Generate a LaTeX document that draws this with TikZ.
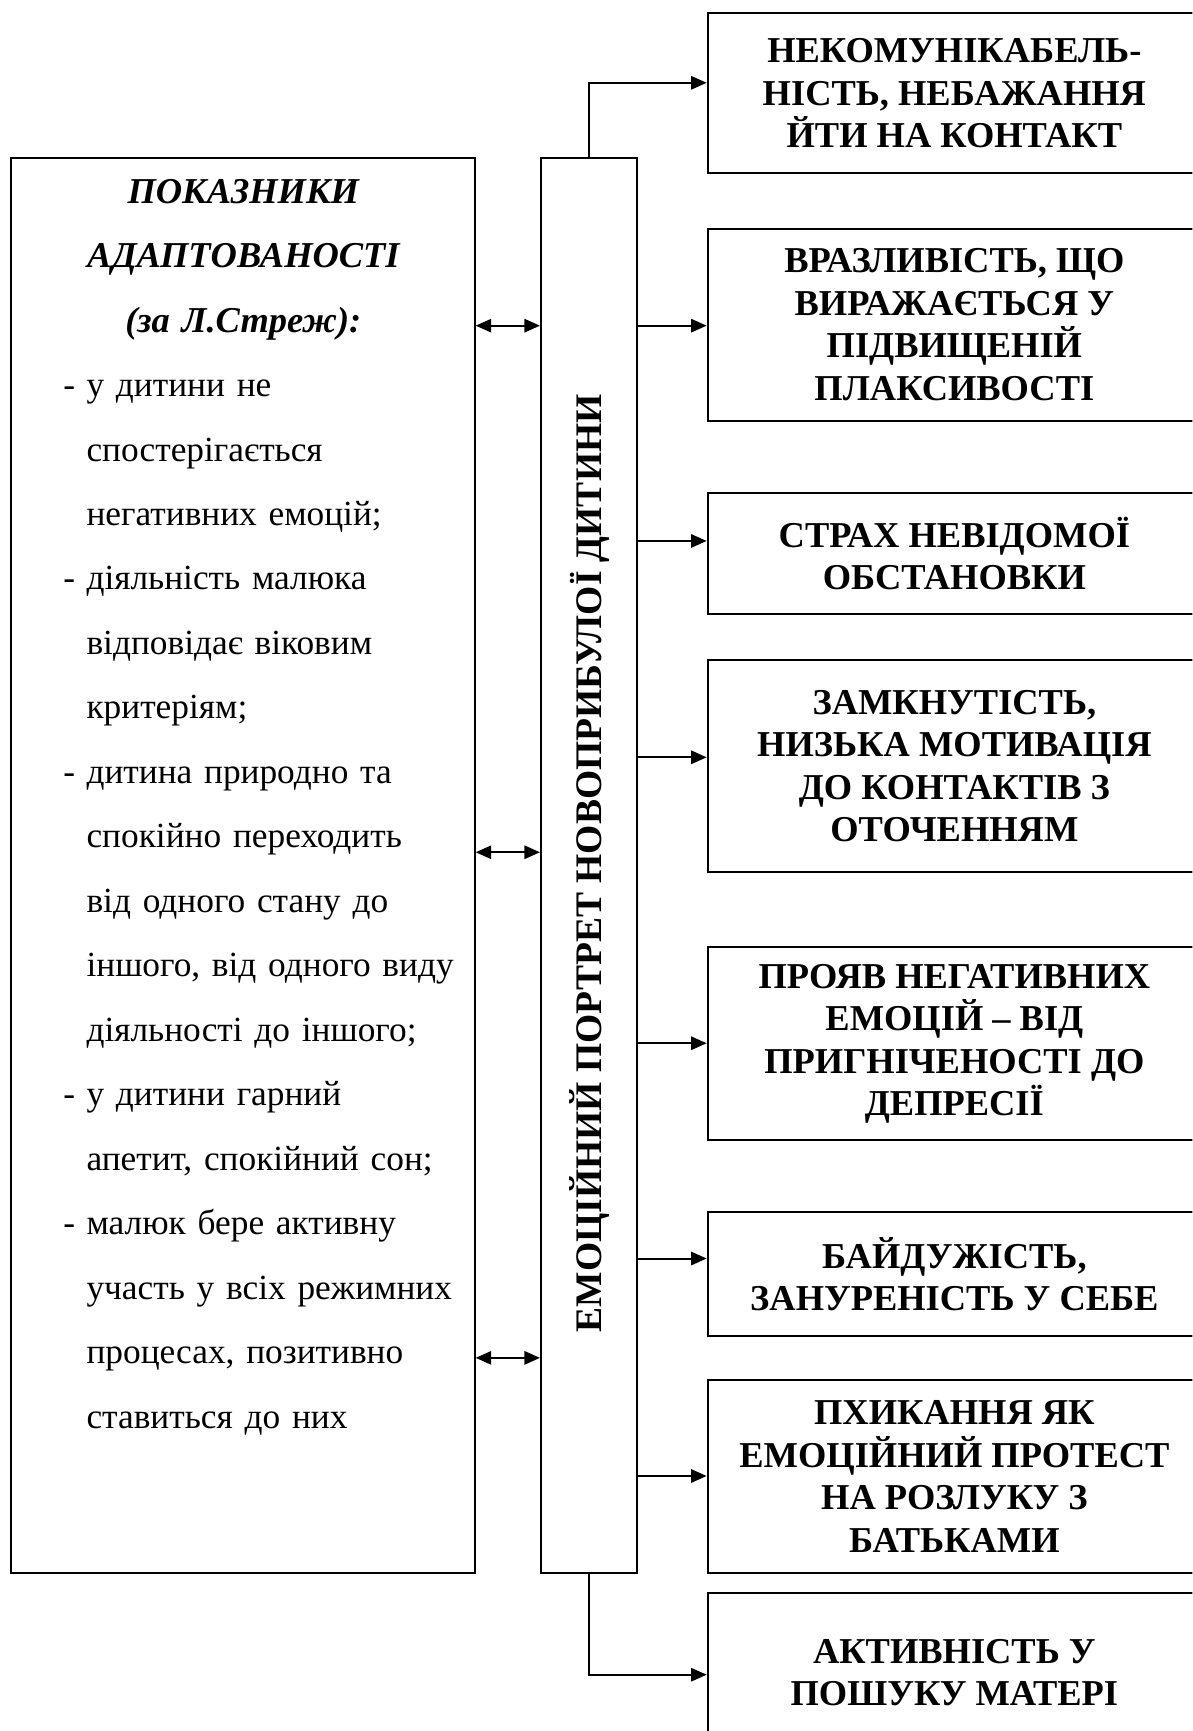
\documentclass[tikz,border=0pt]{standalone}
\usepackage{fontspec}
\setmainfont{Liberation Serif}
\usetikzlibrary{arrows.meta}
\begin{document}
\begin{tikzpicture}[x=0.5pt,y=-0.5pt,
  frame/.style={draw, line width=0.9pt, inner sep=0pt},
  sign/.style={frame, minimum width=223.5pt, align=center,
    font=\fontsize{16.5}{19.2}\selectfont\bfseries},
  link/.style={line width=0.9pt, -{Triangle[length=7pt,width=6pt]}},
  twoway/.style={line width=0.9pt,
    {Triangle[length=7pt,width=6pt]}-{Triangle[length=7pt,width=6pt]}},
  plain/.style={font=\fontsize{16}{29.2}\selectfont}
]
\useasboundingbox (0,0) rectangle (1080,1568);
\clip (0,0) rectangle (1080,1568);

% left block: indicators of adaptation
\node[frame, minimum width=210pt, minimum height=641pt] (crit) at (220,784) {};
\node[plain, anchor=base west, text width=200pt, align=left, inner sep=0pt] (crittext) at (57,184) {%
\makebox[163pt]{\fontsize{16.5}{29.2}\selectfont\bfseries\itshape ПОКАЗНИКИ}\\
\makebox[163pt]{\fontsize{16.5}{29.2}\selectfont\bfseries\itshape АДАПТОВАНОСТІ}\\
\makebox[163pt]{\fontsize{16.5}{29.2}\selectfont\bfseries\itshape (за Л.Стреж):}\\
\makebox[10.5pt][l]{-}у дитини не\\
\hspace*{10.5pt}спостерігається\\
\hspace*{10.5pt}негативних емоцій;\\
\makebox[10.5pt][l]{-}діяльність малюка\\
\hspace*{10.5pt}відповідає віковим\\
\hspace*{10.5pt}критеріям;\\
\makebox[10.5pt][l]{-}дитина природно та\\
\hspace*{10.5pt}спокійно переходить\\
\hspace*{10.5pt}від одного стану до\\
\hspace*{10.5pt}іншого, від одного виду\\
\hspace*{10.5pt}діяльності до іншого;\\
\makebox[10.5pt][l]{-}у дитини гарний\\
\hspace*{10.5pt}апетит, спокійний сон;\\
\makebox[10.5pt][l]{-}малюк бере активну\\
\hspace*{10.5pt}участь у всіх режимних\\
\hspace*{10.5pt}процесах, позитивно\\
\hspace*{10.5pt}ставиться до них};

% central column
\node[frame, minimum width=43.5pt, minimum height=641pt] (ctr) at (533.5,784) {};
\node[rotate=90, font=\fontsize{17}{19.2}\selectfont\bfseries] (ctrtext) at (534,782)
  {ЕМОЦІЙНИЙ ПОРТРЕТ НОВОПРИБУЛОЇ ДИТИНИ};

% right column: features of the emotional portrait
\node[sign, minimum height=72.5pt] (b1) at (864.5,84.5)
  {НЕКОМУНІКАБЕЛЬ-\\НІСТЬ, НЕБАЖАННЯ\\ЙТИ НА КОНТАКТ};
\node[sign, minimum height=87pt] (b2) at (864.5,294)
  {ВРАЗЛИВІСТЬ, ЩО\\ВИРАЖАЄТЬСЯ У\\ПІДВИЩЕНІЙ\\ПЛАКСИВОСТІ};
\node[sign, minimum height=54.5pt] (b3) at (864.5,501.5)
  {СТРАХ НЕВІДОМОЇ\\ОБСТАНОВКИ};
\node[sign, minimum height=96pt] (b4) at (864.5,694)
  {ЗАМКНУТІСТЬ,\\НИЗЬКА МОТИВАЦІЯ\\ДО КОНТАКТІВ З\\ОТОЧЕННЯМ};
\node[sign, minimum height=87.5pt] (b5) at (864.5,945.5)
  {ПРОЯВ НЕГАТИВНИХ\\ЕМОЦІЙ – ВІД\\ПРИГНІЧЕНОСТІ ДО\\ДЕПРЕСІЇ};
\node[sign, minimum height=56pt] (b6) at (864.5,1154)
  {БАЙДУЖІСТЬ,\\ЗАНУРЕНІСТЬ У СЕБЕ};
\node[sign, minimum height=87.5pt] (b7) at (864.5,1337.5)
  {ПХИКАННЯ ЯК\\ЕМОЦІЙНИЙ ПРОТЕСТ\\НА РОЗЛУКУ З\\БАТЬКАМИ};
\node[sign, minimum height=72pt] (b8) at (864.5,1515)
  {АКТИВНІСТЬ У\\ПОШУКУ МАТЕРІ};

% connectors
\draw[link] (ctr.north) |- (b1.west |- 0,75);
\draw[link] (ctr.east |- 0,295) -- (b2.west |- 0,295);
\draw[link] (ctr.east |- 0,490) -- (b3.west |- 0,490);
\draw[link] (ctr.east |- 0,686) -- (b4.west |- 0,686);
\draw[link] (ctr.east |- 0,945) -- (b5.west |- 0,945);
\draw[link] (ctr.east |- 0,1140) -- (b6.west |- 0,1140);
\draw[link] (ctr.east |- 0,1337) -- (b7.west |- 0,1337);
\draw[link] (ctr.south) |- (b8.west |- 0,1517);

\draw[twoway] (crit.east |- 0,295) -- (ctr.west |- 0,295);
\draw[twoway] (crit.east |- 0,772) -- (ctr.west |- 0,772);
\draw[twoway] (crit.east |- 0,1230) -- (ctr.west |- 0,1230);
\end{tikzpicture}
\end{document}
